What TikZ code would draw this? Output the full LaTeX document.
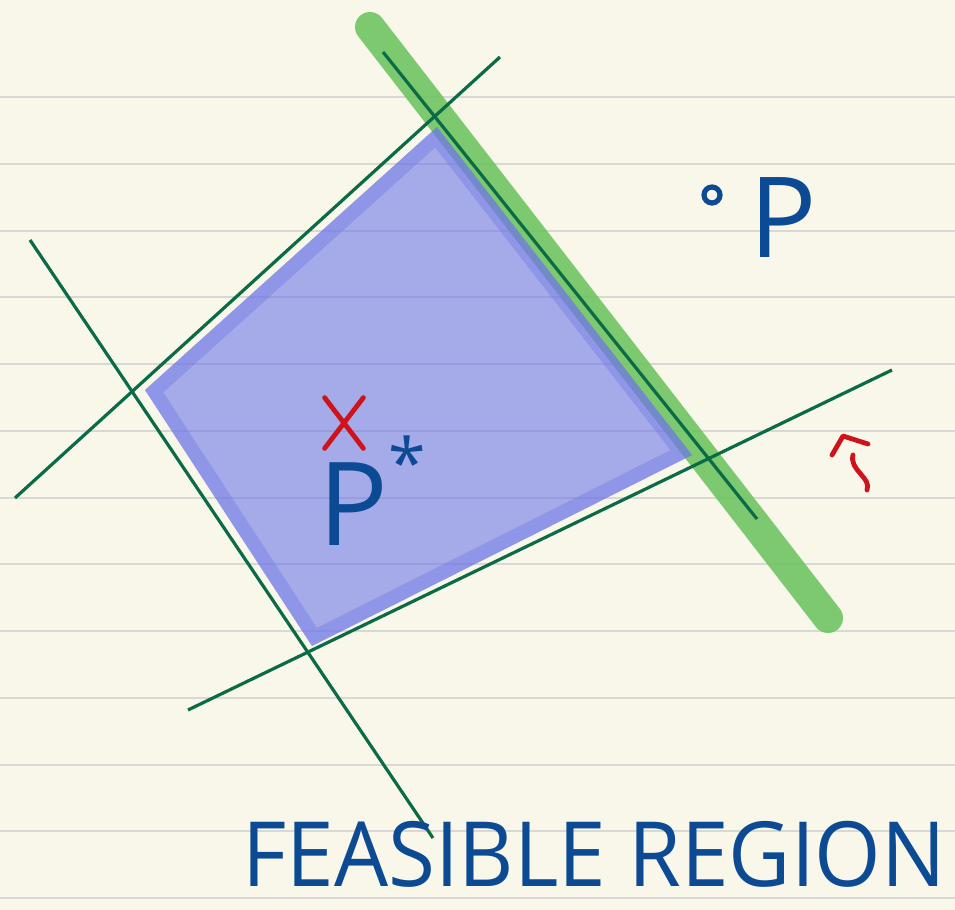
\documentclass[tikz,border=0pt]{standalone}
\usepackage{fontspec}
\setmainfont{Open Sans}
\usetikzlibrary{shapes.misc}
\definecolor{paper}{HTML}{F8F7EA}
\definecolor{rulegray}{HTML}{D8D8D4}
\definecolor{bounddark}{HTML}{0B6B47}
\definecolor{markgreen}{HTML}{6CC35E}
\definecolor{regionblue}{HTML}{6F77E7}
\definecolor{inkblue}{HTML}{0D4A94}
\definecolor{markred}{HTML}{D0131B}
\tikzset{
  ruleline/.style={draw=rulegray,line width=1pt},
  bound/.style={draw=bounddark,line width=1.6pt},
  marker/.style={draw=markgreen,draw opacity=0.88,line width=15pt,line cap=round},
  region/.style={fill=regionblue,fill opacity=0.6},
  regionedge/.style={draw=regionblue,draw opacity=0.4,line width=14pt,line join=round},
  scrawl/.style={text=inkblue,inner sep=0pt},
  redmark/.style={draw=markred,line width=2.4pt,line cap=round,line join=round}
}

\begin{document}
\begin{tikzpicture}[x=0.5pt,y=-0.5pt]
  \fill[paper] (0,0) rectangle (955,910);
  \useasboundingbox (0,0) rectangle (955,910);
  % notebook rules
  \foreach \k in {0,...,12}
    \draw[ruleline] (0,97+66.75*\k) -- (955,97+66.75*\k);

  % supporting line of the optimum
  \draw[marker] (370,27) -- (828,618);

  % constraints
  \draw[bound] (15,498) -- (500,57);
  \draw[bound] (30,240) -- (433,838);
  \draw[bound] (188,710) -- (892,370);
  \draw[bound] (383,52) -- (757,519);

  % feasible region
  \coordinate (top) at (437,127);
  \coordinate (left) at (145,390);
  \coordinate (bottom) at (312,646);
  \coordinate (right) at (692,455);
  \fill[region] (top) -- (left) -- (bottom) -- (right) -- cycle;
  \begin{scope}
    \clip (top) -- (left) -- (bottom) -- (right) -- cycle;
    \draw[regionedge] (top) -- (left) -- (bottom) -- (right) -- cycle;
  \end{scope}

  % points
  \node[draw=inkblue,line width=2.6pt,circle,minimum size=8pt,inner sep=0pt] (pdot) at (712,195) {};
  \node[scrawl,font=\fontsize{56}{56}\selectfont] (plabel) at (783,218) {P};
  \node[cross out,redmark,minimum width=17pt,minimum height=23pt,inner sep=0pt] (xmark) at (344,423) {};
  \node[scrawl,anchor=base west,font=\fontsize{58}{58}\selectfont] (pstar) at (318,545)
    {P\raisebox{0.5em}{\fontsize{34}{34}\selectfont *}};

  % direction of improvement
  \draw[redmark] (832,455) -- (843,436) -- (868,444);
  \draw[redmark] (853,455) .. controls (849,470) and (872,478) .. (867,490);

  \node[scrawl,anchor=base west,font=\fontsize{45}{45}\selectfont] (caption) at (242,886)
    {\scalebox{0.95}[1]{FEASIBLE REGION}};
\end{tikzpicture}
\end{document}
